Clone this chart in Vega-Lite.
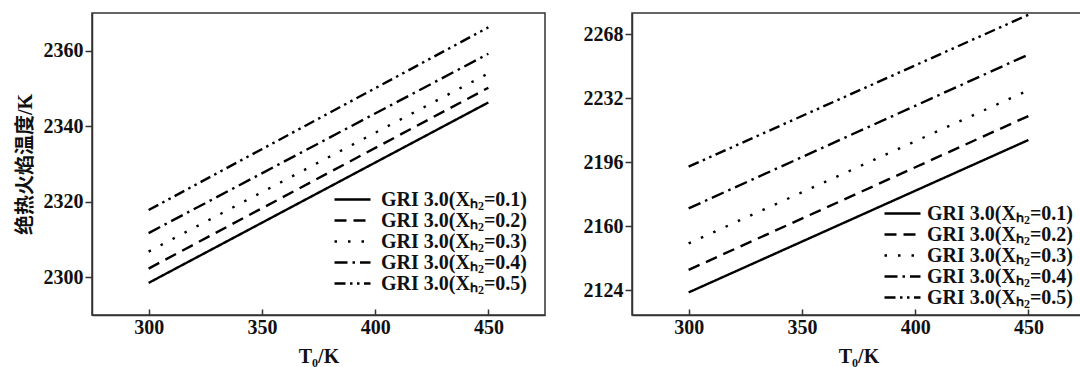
{
  "$schema": "https://vega.github.io/schema/vega-lite/v6.json",
  "padding": {"left": 14, "top": 9, "right": 0, "bottom": 0},
  "spacing": 87,
  "bounds": "flush",
  "background": "white",
  "config": {
    "view": {"stroke": "#333", "strokeWidth": 1.5},
    "axis": {
      "grid": false,
      "domainColor": "#333",
      "domainWidth": 1.5,
      "tickColor": "#333",
      "tickWidth": 1.5,
      "labelFont": "Liberation Serif",
      "labelFontSize": 20,
      "labelFontWeight": "bold",
      "labelColor": "#111",
      "titleFont": "Liberation Serif, Noto Sans CJK SC",
      "titleFontSize": 20,
      "titleFontWeight": "bold",
      "titleColor": "#111"
    },
    "legend": {
      "title": null,
      "orient": "none",
      "padding": 0,
      "symbolType": "M-1,0H3",
      "symbolSize": 324,
      "symbolStrokeWidth": 2.3,
      "symbolStrokeColor": "black",
      "symbolFillColor": "transparent",
      "labelFont": "Liberation Serif",
      "labelFontSize": 20,
      "labelFontWeight": "bold",
      "labelColor": "#111",
      "rowPadding": 0
    }
  },
  "datasets": {
    "a": [
      {"T": 300, "Tad": 2298.5, "series": "GRI 3.0(Xₕ₂=0.1)"},
      {"T": 450, "Tad": 2346.3, "series": "GRI 3.0(Xₕ₂=0.1)"},
      {"T": 300, "Tad": 2302.3, "series": "GRI 3.0(Xₕ₂=0.2)"},
      {"T": 450, "Tad": 2350.2, "series": "GRI 3.0(Xₕ₂=0.2)"},
      {"T": 300, "Tad": 2306.8, "series": "GRI 3.0(Xₕ₂=0.3)"},
      {"T": 450, "Tad": 2354.0, "series": "GRI 3.0(Xₕ₂=0.3)"},
      {"T": 300, "Tad": 2311.7, "series": "GRI 3.0(Xₕ₂=0.4)"},
      {"T": 450, "Tad": 2359.2, "series": "GRI 3.0(Xₕ₂=0.4)"},
      {"T": 300, "Tad": 2317.8, "series": "GRI 3.0(Xₕ₂=0.5)"},
      {"T": 450, "Tad": 2366.2, "series": "GRI 3.0(Xₕ₂=0.5)"}
    ],
    "b": [
      {"T": 300, "Tad": 2122.7, "series": "GRI 3.0(Xₕ₂=0.1)"},
      {"T": 450, "Tad": 2208.5, "series": "GRI 3.0(Xₕ₂=0.1)"},
      {"T": 300, "Tad": 2135.4, "series": "GRI 3.0(Xₕ₂=0.2)"},
      {"T": 450, "Tad": 2222.0, "series": "GRI 3.0(Xₕ₂=0.2)"},
      {"T": 300, "Tad": 2150.3, "series": "GRI 3.0(Xₕ₂=0.3)"},
      {"T": 450, "Tad": 2236.5, "series": "GRI 3.0(Xₕ₂=0.3)"},
      {"T": 300, "Tad": 2170.0, "series": "GRI 3.0(Xₕ₂=0.4)"},
      {"T": 450, "Tad": 2256.6, "series": "GRI 3.0(Xₕ₂=0.4)"},
      {"T": 300, "Tad": 2193.5, "series": "GRI 3.0(Xₕ₂=0.5)"},
      {"T": 450, "Tad": 2279.0, "series": "GRI 3.0(Xₕ₂=0.5)"}
    ]
  },
  "resolve": {"scale": {"strokeDash": "independent"}, "legend": {"strokeDash": "independent"}},
  "hconcat": [
    {
      "width": 453,
      "height": 302,
      "layer": [
        {
          "data": {"name": "a"},
          "mark": {"type": "line", "color": "black", "strokeWidth": 2.4, "strokeCap": "butt"},
          "encoding": {
            "x": {"field": "T", "type": "quantitative",
                  "scale": {"domain": [275, 475], "nice": false, "zero": false},
                  "axis": {"title": "T₀/K", "format": "d", "values": [300, 350, 400, 450], "tickSize": -6, "labelPadding": 8, "titlePadding": 9}},
            "y": {"field": "Tad", "type": "quantitative",
                  "scale": {"domain": [2290, 2370], "nice": false, "zero": false},
                  "axis": {"title": "绝热火焰温度/K", "format": "d", "values": [2300, 2320, 2340, 2360], "tickSize": 7, "labelPadding": 2, "titlePadding": 8}},
            "strokeDash": {"field": "series", "type": "nominal",
                  "scale": {"range": [[1, 0], [12, 7], [2.5, 11], [13, 5, 2.5, 5], [11, 4.5, 2.5, 4.5, 2.5, 4.5]]},
                  "legend": {"legendX": 241, "legendY": 176, "labelOffset": 27}},
            "detail": {"field": "series"}
          }
        },
        {
          "mark": {"type": "text", "text": "(a)", "font": "Liberation Serif", "fontSize": 20, "fontWeight": "bold", "align": "left", "baseline": "middle", "color": "#111"},
          "encoding": {
            "x": {"datum": 283.4, "type": "quantitative"},
            "y": {"datum": 2364.5, "type": "quantitative"}
          }
        }
      ]
    },
    {
      "width": 453,
      "height": 302,
      "layer": [
        {
          "data": {"name": "b"},
          "mark": {"type": "line", "color": "black", "strokeWidth": 2.4, "strokeCap": "butt"},
          "encoding": {
            "x": {"field": "T", "type": "quantitative",
                  "scale": {"domain": [275, 475], "nice": false, "zero": false},
                  "axis": {"title": "T₀/K", "format": "d", "values": [300, 350, 400, 450], "tickSize": -6, "labelPadding": 8, "titlePadding": 9}},
            "y": {"field": "Tad", "type": "quantitative",
                  "scale": {"domain": [2110, 2280], "nice": false, "zero": false},
                  "axis": {"title": null, "format": "d", "values": [2124, 2160, 2196, 2232, 2268], "tickSize": 7, "labelPadding": 2}},
            "strokeDash": {"field": "series", "type": "nominal",
                  "scale": {"range": [[1, 0], [12, 7], [2.5, 11], [13, 5, 2.5, 5], [11, 4.5, 2.5, 4.5, 2.5, 4.5]]},
                  "legend": {"legendX": 251, "legendY": 190, "labelOffset": 23}},
            "detail": {"field": "series"}
          }
        },
        {
          "mark": {"type": "text", "text": "(b)", "font": "Liberation Serif", "fontSize": 20, "fontWeight": "bold", "align": "left", "baseline": "middle", "color": "#111"},
          "encoding": {
            "x": {"datum": 282.1, "type": "quantitative"},
            "y": {"datum": 2268.8, "type": "quantitative"}
          }
        }
      ]
    }
  ]
}
